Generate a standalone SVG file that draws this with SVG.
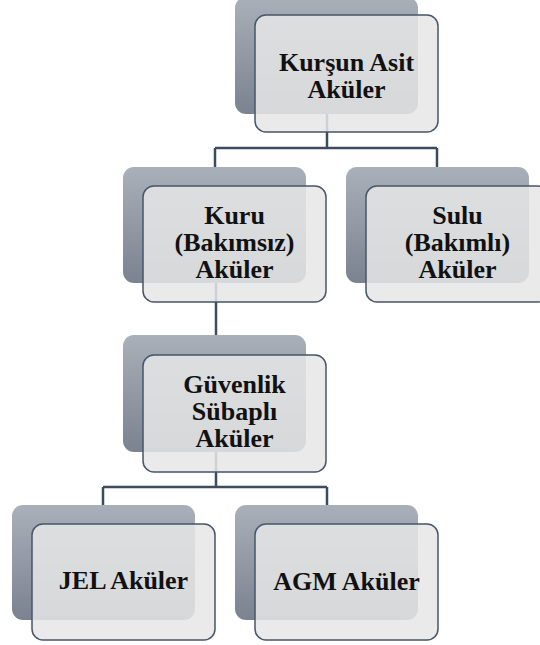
<svg xmlns="http://www.w3.org/2000/svg" width="540" height="645" viewBox="0 0 540 645">
  <defs>
    <linearGradient id="backGrad" x1="0" y1="0" x2="0" y2="1">
      <stop offset="0" stop-color="#aab0b9"/>
      <stop offset="1" stop-color="#7b8290"/>
    </linearGradient>
    <style>
      .back { fill: url(#backGrad); }
      .front { fill: #e6e6e6; fill-opacity: 0.86; stroke: #475669; stroke-width: 1.5; }
      .conn { fill: none; stroke: #3d4b5e; stroke-width: 2.5; }
    </style>
  </defs>
  <rect x="0" y="0" width="540" height="645" fill="#ffffff"/>

  <g id="connectors">
    <path class="conn" d="M327,114 V148 M215,148 H437 M215,148 V168 M437,148 V168"/>
    <path class="conn" d="M216,283 V336"/>
    <path class="conn" d="M216,452 V487 M103,487 H327 M103,487 V506 M327,487 V506"/>
  </g>

  <g id="node-kursun">
    <rect class="back" x="235" y="-3" width="183" height="117" rx="11"/>
    <rect class="front" x="255" y="15" width="183" height="117" rx="11"/>
    <text font-family="Liberation Serif" font-size="26" font-weight="bold" fill="#111" text-anchor="middle" x="346.5" y="71">Kurşun Asit</text>
    <text font-family="Liberation Serif" font-size="26" font-weight="bold" fill="#111" text-anchor="middle" x="346.5" y="98">Aküler</text>
  </g>

  <g id="node-kuru">
    <rect class="back" x="123" y="167" width="183" height="116" rx="11"/>
    <rect class="front" x="143" y="186" width="183" height="116" rx="11"/>
    <text font-family="Liberation Serif" font-size="26" font-weight="bold" fill="#111" text-anchor="middle" x="234.5" y="224">Kuru</text>
    <text font-family="Liberation Serif" font-size="26" font-weight="bold" fill="#111" text-anchor="middle" x="234.5" y="251">(Bakımsız)</text>
    <text font-family="Liberation Serif" font-size="26" font-weight="bold" fill="#111" text-anchor="middle" x="234.5" y="278">Aküler</text>
  </g>

  <g id="node-sulu">
    <rect class="back" x="346" y="167" width="183" height="116" rx="11"/>
    <rect class="front" x="366" y="186" width="183" height="116" rx="11"/>
    <text font-family="Liberation Serif" font-size="26" font-weight="bold" fill="#111" text-anchor="middle" x="457.5" y="224">Sulu</text>
    <text font-family="Liberation Serif" font-size="26" font-weight="bold" fill="#111" text-anchor="middle" x="457.5" y="251">(Bakımlı)</text>
    <text font-family="Liberation Serif" font-size="26" font-weight="bold" fill="#111" text-anchor="middle" x="457.5" y="278">Aküler</text>
  </g>

  <g id="node-guvenlik">
    <rect class="back" x="123" y="335" width="183" height="117" rx="11"/>
    <rect class="front" x="143" y="355" width="183" height="117" rx="11"/>
    <text font-family="Liberation Serif" font-size="26" font-weight="bold" fill="#111" text-anchor="middle" x="234.5" y="393">Güvenlik</text>
    <text font-family="Liberation Serif" font-size="26" font-weight="bold" fill="#111" text-anchor="middle" x="234.5" y="420">Sübaplı</text>
    <text font-family="Liberation Serif" font-size="26" font-weight="bold" fill="#111" text-anchor="middle" x="234.5" y="447">Aküler</text>
  </g>

  <g id="node-jel">
    <rect class="back" x="12" y="505" width="183" height="115" rx="11"/>
    <rect class="front" x="32" y="524" width="183" height="116" rx="11"/>
    <text font-family="Liberation Serif" font-size="26" font-weight="bold" fill="#111" text-anchor="middle" x="123.5" y="589">JEL Aküler</text>
  </g>

  <g id="node-agm">
    <rect class="back" x="235" y="505" width="183" height="115" rx="11"/>
    <rect class="front" x="255" y="524" width="183" height="116" rx="11"/>
    <text font-family="Liberation Serif" font-size="26" font-weight="bold" fill="#111" text-anchor="middle" x="346.5" y="590">AGM Aküler</text>
  </g>
</svg>
